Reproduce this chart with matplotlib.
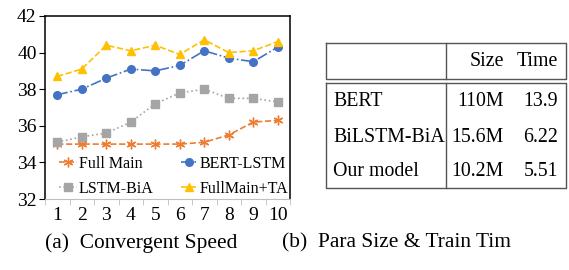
import numpy as np
import matplotlib
matplotlib.use('Agg')
import matplotlib.pyplot as plt

plt.rcParams['font.family'] = ['Liberation Serif', 'DejaVu Serif']
plt.rcParams['mathtext.fontset'] = 'stix'

epochs = [1, 2, 3, 4, 5, 6, 7, 8, 9, 10]
full_main = [35.0, 35.0, 35.0, 35.0, 35.0, 35.0, 35.1, 35.5, 36.2, 36.3]
bert_lstm = [37.7, 38.0, 38.6, 39.1, 39.0, 39.3, 40.1, 39.7, 39.5, 40.3]
lstm_bia = [35.1, 35.4, 35.6, 36.2, 37.2, 37.8, 38.0, 37.5, 37.5, 37.3]
full_main_ta = [38.7, 39.1, 40.4, 40.1, 40.4, 39.9, 40.7, 40.0, 40.1, 40.6]

table_cols = ['Size', 'Time']
table_rows = ['BERT', 'BiLSTM-BiA', 'Our model']
table_size = ['110M', '15.6M', '10.2M']
table_time = ['13.9', '6.22', '5.51']

fig = plt.figure(figsize=(5.69, 2.70), dpi=100)
ax = fig.add_axes([45 / 569, 1 - 199 / 270, 245 / 569, 183 / 270])

# series
l1, = ax.plot(epochs, full_main, color='#ED7D31', ls='--', lw=1.2,
              marker=(6, 2, 0), ms=7, mew=1.0, label='Full Main')
l2, = ax.plot(epochs, bert_lstm, color='#4472C4', ls='-.', lw=1.2,
              marker='o', ms=5.5, label='BERT-LSTM')
l3, = ax.plot(epochs, lstm_bia, color='#A5A5A5', ls=':', lw=1.2,
              marker='s', ms=5.5, label='LSTM-BiA')
l4, = ax.plot(epochs, full_main_ta, color='#FFC000', ls='--', lw=1.2,
              marker='^', ms=6, label='FullMain+TA')

ax.set_xlim(0.5, 10.5)
ax.set_ylim(32, 42)
ax.set_yticks(np.arange(32, 43, 2))
ax.set_xticks(epochs)
ax.set_xticks(np.arange(0.5, 11, 1), minor=True)
ax.tick_params(axis='x', which='major', length=0, labelsize=14, pad=6)
ax.tick_params(axis='x', which='minor', length=4, color='#BFBFBF')
ax.tick_params(axis='y', which='major', length=4, labelsize=14, pad=2)
for s in ['top', 'right', 'left']:
    ax.spines[s].set_color('black')
    ax.spines[s].set_linewidth(1.1)
ax.spines['bottom'].set_color('#BFBFBF')

ax.legend(handles=[l1, l3, l2, l4], ncol=2, loc='lower left',
          bbox_to_anchor=(0.02, -0.04), frameon=False, fontsize=11.5,
          handlelength=1.1, handletextpad=0.1, columnspacing=1.7,
          labelspacing=0.55, borderaxespad=0.2)

# table (b)
tax = fig.add_axes([0, 0, 1, 1])
tax.set_xlim(0, 569)
tax.set_ylim(270, 0)
tax.axis('off')
lc = '#555555'
x0, x1, xm = 326, 566, 446
tax.plot([x0, x1, x1, x0, x0], [43, 43, 79, 79, 43], color=lc, lw=1.0)
tax.plot([x0, x1, x1, x0, x0], [83, 83, 188, 188, 83], color=lc, lw=1.0)
tax.plot([xm, xm], [43, 79], color=lc, lw=1.0)
tax.plot([xm, xm], [83, 188], color=lc, lw=1.0)
fs = 14.3
tax.text(504, 62, table_cols[0], ha='right', va='center', fontsize=fs)
tax.text(558, 62, table_cols[1], ha='right', va='center', fontsize=fs)
for i, name in enumerate(table_rows):
    y = 102 + i * 35
    tax.text(333, y, name, ha='left', va='center', fontsize=fs)
    tax.text(504, y, table_size[i], ha='right', va='center', fontsize=fs)
    tax.text(558, y, table_time[i], ha='right', va='center', fontsize=fs)

# captions
fig.text(45 / 569, 1 - 243 / 270, '(a)  Convergent Speed', ha='left',
         va='center', fontsize=15.4)
fig.text(282 / 569, 1 - 243 / 270, '(b)  Para Size & Train Tim', ha='left',
         va='center', fontsize=15.4)

fig.savefig('out.png', dpi=100)
